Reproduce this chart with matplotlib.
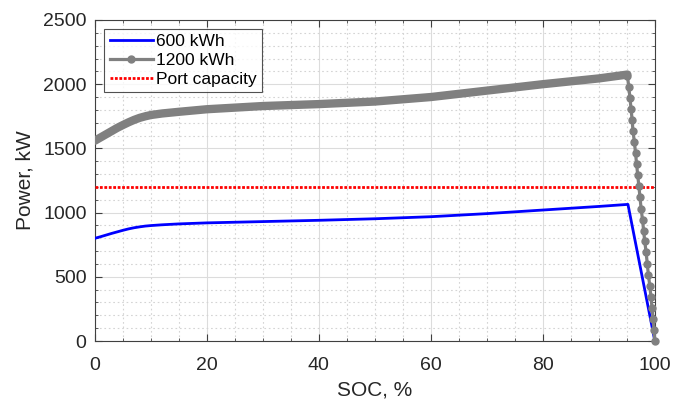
import numpy as np
import matplotlib
matplotlib.use("Agg")
import matplotlib.pyplot as plt
from matplotlib.ticker import MultipleLocator

plt.rcParams['font.family'] = ['Liberation Sans', 'DejaVu Sans']

# 600 kWh pack
soc_600 = [0, 1, 2, 3, 4, 5, 6, 7, 8, 9, 10, 12, 15, 20, 30, 40, 50, 60, 70, 80, 90, 95.2, 100]
p_600 = [800, 812, 825, 838, 850, 862, 873, 882, 889, 895, 899, 905, 912, 920, 930, 940,
         952, 968, 992, 1020, 1048, 1064, 0]

# 1200 kWh pack, smooth part up to the knee
soc_1200_flat = [0, 1, 2, 3, 4, 5, 6, 7, 8, 9, 10, 12, 15, 20, 30, 40, 50, 60, 70, 80, 90, 95.1]
p_1200_flat = [1560, 1585, 1610, 1635, 1660, 1682, 1703, 1722, 1738, 1750, 1760, 1772, 1785,
               1805, 1830, 1845, 1865, 1900, 1950, 2000, 2045, 2075]

# 1200 kWh pack, taper after 95 % SOC (one sample per marker)
soc_1200_drop = [95.1, 95.35, 95.55, 95.75, 95.95, 96.1, 96.35, 96.55, 96.75, 96.95,
                 97.15, 97.35, 97.55, 97.8, 98.0, 98.2, 98.45, 98.65, 98.85, 99.1,
                 99.3, 99.5, 99.7, 99.85, 100.0]
p_1200_drop = [2065, 1980, 1895, 1810, 1720, 1635, 1550, 1465, 1375, 1290,
               1205, 1120, 1030, 945, 860, 775, 690, 600, 515, 430,
               345, 260, 170, 85, 0]

port_capacity = 1200

fig = plt.figure(figsize=(6.73, 4.0), dpi=100)
ax = fig.add_axes([0.141, 0.1475, 0.832, 0.8025])

gray = '#808080'
ax.plot(soc_600, p_600, color='#0000ff', lw=2.0, label='600 kWh', zorder=3)
ax.plot(soc_1200_flat, p_1200_flat, color=gray, lw=6.0, solid_capstyle='round',
        solid_joinstyle='round', zorder=4)
ax.plot(soc_1200_drop, p_1200_drop, color=gray, lw=2.3, marker='o', ms=5,
        zorder=4, label='1200 kWh', clip_on=False)
ax.axhline(port_capacity, color='#ff0000', lw=2.0, ls=(0, (1, 0.6)),
           label='Port capacity', zorder=3)

ax.set_xlim(0, 100)
ax.set_ylim(0, 2500)
ax.xaxis.set_major_locator(MultipleLocator(20))
ax.xaxis.set_minor_locator(MultipleLocator(5))
ax.yaxis.set_major_locator(MultipleLocator(500))
ax.yaxis.set_minor_locator(MultipleLocator(100))

ax.grid(which='major', color='#dcdcdc', lw=0.8, ls='-')
ax.grid(which='minor', color='#d4d4d4', lw=0.8, ls=(0, (1.5, 2.5)))
ax.set_axisbelow(True)

ax.tick_params(which='both', direction='in', top=True, right=True,
               colors='#404040', labelcolor='#262626', labelsize=14)
ax.tick_params(which='major', length=5)
ax.tick_params(which='minor', length=2.5)
ax.tick_params(axis='x', which='major', pad=11.5)
ax.tick_params(axis='y', which='major', pad=6)
for s in ax.spines.values():
    s.set_color('#404040')
    s.set_linewidth(0.8)

ax.set_xlabel('SOC, %', fontsize=15, color='#262626', labelpad=4.5)
ax.set_ylabel('Power, kW', fontsize=15, color='#262626', labelpad=6)

leg = ax.legend(loc='upper left', bbox_to_anchor=(0.017, 0.972), fontsize=12.5,
                frameon=True, fancybox=False, edgecolor='#262626',
                handlelength=2.5, handletextpad=0.2, borderpad=0.3,
                labelspacing=0.2, borderaxespad=0.0)
leg.get_frame().set_linewidth(0.8)

fig.savefig('out.png', dpi=100)
